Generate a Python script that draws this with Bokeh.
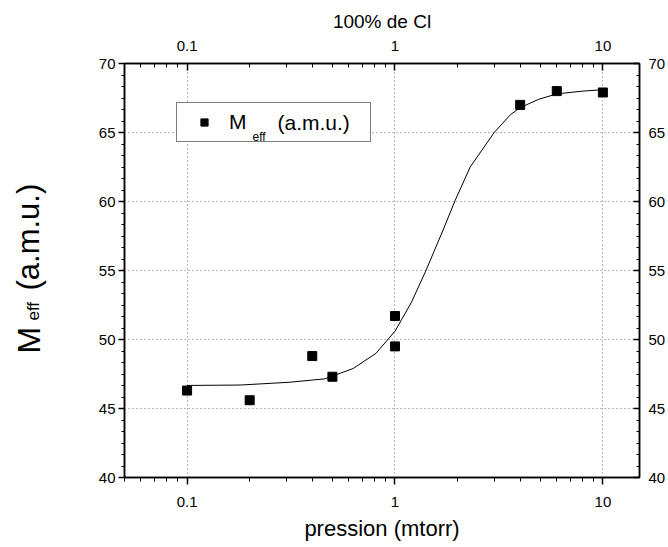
from math import pi
from bokeh.plotting import figure
from bokeh.layouts import row
from bokeh.models import (Range1d, LinearAxis, LogAxis, LogTicker, SingleIntervalTicker,
                          CustomJSTickFormatter, Legend, LegendItem, Label, BoxAnnotation)
from bokeh.embed import file_html
from bokeh.resources import INLINE

# ---- data ----
pressure = [0.1, 0.2, 0.4, 0.5, 1.0, 1.0, 4.0, 6.0, 10.0]
m_eff = [46.3, 45.6, 48.8, 47.3, 51.7, 49.5, 67.0, 68.0, 67.9]

fit_p = [0.1, 0.18, 0.31, 0.46, 0.63, 0.81, 1.0, 1.2, 1.4, 1.7, 1.95, 2.3, 3.0,
         3.6, 4.0, 4.9, 6.0, 8.0, 10.0]
fit_m = [46.67, 46.7, 46.9, 47.15, 47.9, 49.0, 50.6, 52.7, 54.9, 57.9, 60.1, 62.5,
         65.0, 66.3, 66.8, 67.4, 67.8, 68.0, 68.1]

x_min, x_max = 0.05, 15
y_min, y_max = 40, 70

FONT = "Liberation Sans"
W, H = 668, 547
TW = 60  # width of the strip holding the y-axis title

p = figure(width=W - TW, height=H, x_axis_type="log",
           x_range=Range1d(x_min, x_max), y_range=Range1d(y_min, y_max),
           output_backend="svg", toolbar_location=None,
           min_border_left=124 - TW, min_border_right=26,
           min_border_top=63, min_border_bottom=70)

p.outline_line_color = "black"
p.outline_line_width = 1.5
p.background_fill_color = "white"
p.border_fill_color = "white"

fmt = CustomJSTickFormatter(code="return tick.toString();")

# bottom axis
xa = p.xaxis[0]
xa.ticker = LogTicker(num_minor_ticks=10)
xa.formatter = fmt
xa.major_tick_out = 7
xa.major_tick_in = 0
xa.minor_tick_out = 4
xa.minor_tick_in = 0
xa.major_label_standoff = 12
xa.axis_label = "pression (mtorr)"
xa.axis_label_text_font_size = "22px"
xa.axis_label_standoff = 6

# top axis
top = LogAxis(ticker=LogTicker(num_minor_ticks=10), formatter=fmt)
top.major_tick_out = 0
top.major_tick_in = 7
top.minor_tick_out = 0
top.minor_tick_in = 4
top.major_label_standoff = 13
top.axis_label = "100% de Cl"
top.axis_label_text_font_size = "19px"
top.axis_label_standoff = 6
p.add_layout(top, "above")

# left axis
ya = p.yaxis[0]
ya.ticker = SingleIntervalTicker(interval=5, num_minor_ticks=6)
ya.major_tick_out = 6
ya.major_tick_in = 0
ya.minor_tick_out = 3
ya.minor_tick_in = 0
ya.major_label_standoff = 3

# right axis
right = LinearAxis(ticker=SingleIntervalTicker(interval=5, num_minor_ticks=6))
right.major_tick_out = 0
right.major_tick_in = 6
right.minor_tick_out = 0
right.minor_tick_in = 3
right.major_label_standoff = 9
p.add_layout(right, "right")

for ax in [xa, top, ya, right]:
    ax.axis_line_color = "black"
    ax.axis_line_width = 1.5
    ax.major_tick_line_color = "black"
    ax.major_tick_line_width = 1.5
    ax.minor_tick_line_color = "black"
    ax.minor_tick_line_width = 1
    ax.major_label_text_font = FONT
    ax.major_label_text_font_size = "15px"
    ax.major_label_text_color = "black"
    ax.axis_label_text_font = FONT
    ax.axis_label_text_font_style = "normal"
    ax.axis_label_text_color = "black"

# dotted grid
p.xgrid.ticker = xa.ticker
p.ygrid.ticker = ya.ticker
for g in [p.xgrid[0], p.ygrid[0]]:
    g.grid_line_color = "black"
    g.grid_line_alpha = 0.55
    g.grid_line_dash = "1 3"
    g.grid_line_width = 1

# white patch behind the legend (legend itself is transparent)
p.add_layout(BoxAnnotation(left=52, right=245, bottom=335, top=374,
                           left_units="screen", right_units="screen",
                           bottom_units="screen", top_units="screen",
                           fill_color="white", fill_alpha=1, line_alpha=0,
                           level="underlay"))

# fit curve + points
p.line(fit_p, fit_m, line_color="black", line_width=1)
pts = p.scatter(pressure, m_eff, marker="square", size=9,
                fill_color="black", line_color="black")

# legend (subscript added with labels)
legend = Legend(items=[LegendItem(label="M", renderers=[pts])],
                location=(52, 335))
legend.border_line_color = "black"
legend.border_line_width = 1
legend.background_fill_alpha = 0
legend.padding = 7
legend.margin = 0
legend.spacing = 0
legend.glyph_width = 40
legend.glyph_height = 18
legend.label_height = 18
legend.label_standoff = 5
legend.label_width = 134
legend.label_text_font = FONT
legend.label_text_font_size = "21px"
legend.label_text_color = "black"
p.add_layout(legend, "center")


def lab(fig, **kw):
    base = dict(x_units="screen", y_units="screen", text_font=FONT, text_color="black")
    base.update(kw)
    fig.add_layout(Label(**base))


lab(p, x=128, y=341, text="eff", text_font_size="12px",
    text_align="left", text_baseline="alphabetic")
lab(p, x=153, y=355, text="(a.m.u.)", text_font_size="21px",
    text_align="left", text_baseline="middle")

# ---- strip on the left that carries the rotated y-axis title ----
t = figure(width=TW, height=H, x_range=Range1d(0, TW), y_range=Range1d(0, H),
           output_backend="svg", toolbar_location=None,
           x_axis_location=None, y_axis_location=None, min_border=0)
t.outline_line_color = None
t.xgrid.visible = False
t.ygrid.visible = False
t.background_fill_color = "white"
t.border_fill_color = "white"

# (its frame is aligned with the main plot's frame: bottom edge at y=477)
lab(t, x=28, y=124, text="M", text_font_size="32px", angle=pi / 2,
    text_align="left", text_baseline="alphabetic")
lab(t, x=33, y=157, text="eff", text_font_size="17px", angle=pi / 2,
    text_align="left", text_baseline="alphabetic")
lab(t, x=28, y=187, text="(a.m.u.)", text_font_size="31px", angle=pi / 2,
    text_align="left", text_baseline="alphabetic")

layout = row(t, p, spacing=0)
open("out.html", "w").write(file_html(layout, INLINE))
